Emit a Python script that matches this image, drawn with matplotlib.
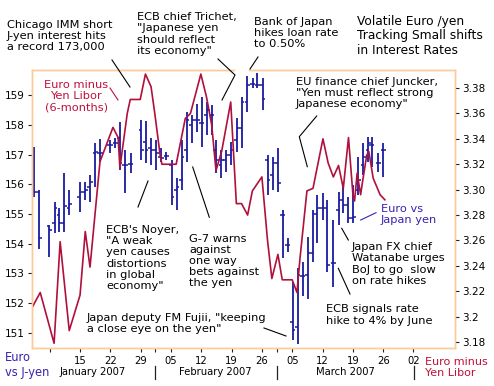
import matplotlib
matplotlib.use('Agg')
import matplotlib.pyplot as plt
import matplotlib.transforms as mtrans
from matplotlib.lines import Line2D
import numpy as np

# ---------------- data ----------------
# day of year 2007 (Jan 1 = 1)
bar_day = [4.4, 5.6, 7.9, 9.1, 10.2, 11.4, 12.5, 15.0, 16.2, 17.3, 18.5, 19.6, 21.9, 23.1,
           24.2, 25.4, 26.7, 29.1, 30.2, 31.4, 32.6, 33.7, 34.9, 36.2, 37.3, 38.5, 39.6,
           40.8, 42.0, 43.1, 44.3, 45.4, 46.4, 47.6, 48.7, 49.9, 51.2, 52.3, 53.6, 54.9,
           55.9, 57.2, 58.3, 59.5, 60.7, 61.8, 63.0, 64.1, 65.3, 66.4, 67.6, 68.7, 69.8,
           71.0, 72.1, 73.5, 74.7, 75.8, 77.0, 78.1, 79.3, 80.4, 81.6, 82.4, 83.9, 85.0]
bar_open = [157.23, 155.76, 154.60, 154.70, 154.97, 154.70, 155.20, 155.59, 155.75, 155.92,
            157.05, 157.06, 157.33, 157.40, 157.57, 156.66, 156.69, 157.84, 157.43, 157.23,
            157.16, 156.93, 156.96, 156.66, 155.81, 156.15, 157.16, 158.00, 158.17, 158.07,
            158.34, 158.34, 157.16, 156.66, 156.82, 156.99, 157.50, 157.90, 158.78, 159.39,
            159.35, 159.35, 156.82, 156.32, 156.72, 154.97, 153.96, 151.36, 151.19, 152.91,
            152.95, 153.69, 155.00, 155.21, 155.21, 153.35, 155.14, 155.48, 155.31, 154.87,
            155.81, 156.66, 157.16, 157.33, 156.72, 157.16]
bar_high = [157.27, 155.81, 154.63, 155.42, 155.21, 156.38, 155.81, 156.09, 156.09, 156.32,
            157.39, 157.52, 157.50, 157.56, 158.12, 157.16, 157.05, 158.17, 158.14, 157.57,
            157.50, 157.23, 157.09, 156.82, 156.22, 157.50, 158.44, 158.34, 158.71, 158.95,
            158.78, 158.68, 157.50, 157.16, 157.16, 157.43, 158.24, 158.95, 159.66, 159.59,
            159.76, 159.59, 156.99, 156.93, 157.23, 155.14, 154.19, 152.71, 153.18, 153.38,
            154.23, 155.14, 155.64, 155.70, 155.48, 154.80, 155.75, 156.08, 155.58, 155.98,
            156.93, 157.40, 157.60, 157.60, 157.06, 157.40]
bar_low = [155.57, 153.81, 153.56, 154.35, 154.41, 154.41, 154.97, 155.08, 155.48, 155.42,
           155.92, 156.77, 157.05, 157.22, 156.49, 155.70, 156.38, 156.82, 156.72, 156.66,
           156.49, 156.76, 156.82, 155.31, 155.14, 155.81, 156.76, 157.40, 157.77, 157.26,
           157.67, 157.67, 156.39, 156.22, 156.42, 156.66, 157.09, 157.23, 158.44, 159.25,
           159.25, 158.51, 155.64, 155.81, 155.75, 153.52, 153.72, 150.75, 150.62, 152.24,
           152.14, 153.38, 154.02, 154.80, 153.05, 152.54, 154.63, 155.04, 154.70, 154.70,
           155.64, 156.32, 156.76, 156.59, 156.42, 156.25]
bar_close = [155.76, 154.20, 154.45, 155.21, 154.70, 155.27, 155.35, 155.75, 155.81, 156.08,
             157.10, 157.05, 157.33, 157.39, 156.72, 156.66, 156.69, 157.16, 157.16, 157.16,
             157.06, 156.89, 156.96, 155.58, 155.92, 156.93, 158.17, 158.17, 158.17, 158.07,
             158.51, 158.34, 156.82, 156.82, 156.99, 157.16, 157.90, 158.78, 159.35, 159.39,
             159.35, 158.88, 156.15, 156.72, 156.05, 154.97, 153.96, 151.09, 152.95, 152.91,
             153.69, 155.00, 155.21, 155.21, 153.28, 153.35, 155.48, 155.31, 154.87, 154.90,
             156.15, 156.93, 157.40, 157.33, 156.72, 157.16]

libor_day = [3.9, 5.8, 9.0, 10.4, 12.5, 15.0, 16.2, 17.3, 19.6, 22.6, 23.8, 24.2, 25.9, 26.6,
             28.9, 30.1, 31.4, 32.3, 33.5, 33.9, 37.2, 39.3, 40.5, 42.9, 44.2, 45.4, 46.4,
             47.7, 49.8, 51.1, 52.3, 53.7, 54.8, 57.0, 58.3, 59.3, 60.7, 61.7, 64.0, 65.1,
             65.8, 67.4, 68.8, 71.1, 72.3, 73.5, 74.7, 75.8, 77.0, 78.0, 78.4, 79.0, 79.8,
             80.1, 81.2, 81.7, 82.7, 84.3, 85.4]
libor_spread = [3.207, 3.219, 3.179, 3.259, 3.189, 3.217, 3.267, 3.239, 3.322, 3.349, 3.341,
                3.317, 3.360, 3.371, 3.371, 3.391, 3.381, 3.359, 3.327, 3.320, 3.320, 3.356,
                3.360, 3.391, 3.373, 3.351, 3.315, 3.330, 3.369, 3.289, 3.289, 3.280, 3.299,
                3.310, 3.260, 3.230, 3.249, 3.229, 3.229, 3.219, 3.246, 3.299, 3.301, 3.340,
                3.321, 3.310, 3.319, 3.301, 3.341, 3.297, 3.291, 3.313, 3.296, 3.303, 3.327,
                3.330, 3.309, 3.296, 3.292]

week_ticks = [8, 15, 22, 29, 36, 43, 50, 57, 64, 71, 78, 85, 92]
week_labels = ['', '15', '22', '29', '05', '12', '19', '26', '05', '12', '19', '26', '02']
month_ticks = [32.3, 60.5]
month_names = ['January 2007', 'February 2007', 'March 2007']
month_centers = [18.0, 46.2, 76.2]
month_seps = [32.3, 60.5, 92.2]
left_ticks = [151, 152, 153, 154, 155, 156, 157, 158, 159]
right_ticks = [3.18, 3.20, 3.22, 3.24, 3.26, 3.28, 3.30, 3.32, 3.34, 3.36, 3.38]
right_labels = ['3.18', '3.2', '3.22', '3.24', '3.26', '3.28', '3.30', '3.32', '3.34', '3.36', '3.38']

# ---------------- style ----------------
BLUE = '#1A1AA0'
RED = '#B0103C'
LBL_BLUE = '#3A22B0'
LBL_RED = '#C0103C'
FRAME = '#FDCB98'
W, H = 494, 386
plt.rcParams['font.family'] = ['DejaVu Sans']

fig = plt.figure(figsize=(W / 100, H / 100), dpi=100)
ax = fig.add_axes([32 / W, 1 - 348 / H, (455 - 32) / W, (348 - 70) / H])
ax2 = ax.twinx()

d = np.array(bar_day)
ax.vlines(d, bar_low, bar_high, color=BLUE, lw=1.3)
ax.hlines(bar_open, d - 0.6, d, color=BLUE, lw=1.1)
ax.hlines(bar_close, d, d + 0.6, color=BLUE, lw=1.1)

ax2.plot(libor_day, libor_spread, color=RED, lw=1.2)

ax.set_xlim(3.9, 101.6)
ax.set_ylim(150.48, 159.86)
ax2.set_ylim(3.1753, 3.3942)

for a in (ax, ax2):
    for s in a.spines.values():
        s.set_color(FRAME)
        s.set_linewidth(1.0)

ax.set_yticks(left_ticks)
ax.set_yticklabels([str(v) for v in left_ticks])
ax2.set_yticks(right_ticks)
ax2.set_yticklabels(right_labels)
ax.tick_params(axis='y', length=3, width=0.8, color='#222222', pad=2, labelsize=7.5)
ax2.tick_params(axis='y', length=3, width=0.8, color='#222222', pad=2, labelsize=7.5)

ax.set_xticks(week_ticks)
ax.set_xticklabels(week_labels)
ax.set_xticks(month_ticks, minor=True)
ax.tick_params(axis='x', which='both', length=3, width=0.8, color='#222222', pad=2.5,
               labelsize=7.2)

trans = mtrans.blended_transform_factory(ax.transData, ax.transAxes)
for name, c in zip(month_names, month_centers):
    ax.text(c, -0.087, name, transform=trans, ha='center', va='center', fontsize=7.2)
for s in month_seps:
    ax.plot([s, s], [-0.065, -0.112], transform=trans, color='#222222', lw=0.9, clip_on=False)


def P(x, y):
    return x / W, 1 - y / H


def txt(x, yc, s, color='black', size=8.2, ha='left'):
    fig.text(x / W, 1 - yc / H, s, ha=ha, va='center', fontsize=size, color=color,
             linespacing=1.13)


def lead(pts, color='black'):
    xs = [p[0] / W for p in pts]
    ys = [1 - p[1] / H for p in pts]
    fig.add_artist(Line2D(xs, ys, color=color, lw=0.8))


txt(7, 36, 'Chicago IMM short\nJ-yen interest hits\na record 173,000')
txt(137, 34, 'ECB chief Trichet,\n"Japanese yen\nshould reflect\nits economy"')
txt(254, 33, 'Bank of Japan\nhikes loan rate\nto 0.50%')
txt(357, 36, 'Volatile Euro /yen\nTracking Small shifts\nin Interest Rates', size=8.8)
txt(296, 93, 'EU finance chief Juncker,\n"Yen must reflect strong\nJapanese economy"')
txt(76, 96, 'Euro minus\nYen Libor\n(6-months)', color=LBL_RED, ha='center')
txt(106, 258, 'ECB\'s Noyer,\n"A weak\nyen causes\ndistortions\nin global\neconomy"')
txt(189, 261, 'G-7 warns\nagainst\none way\nbets against\nthe yen')
txt(87, 323.5, 'Japan deputy FM Fujii, "keeping\na close eye on the yen"')
txt(352, 264, 'Japan FX chief\nWatanabe urges\nBoJ to go  slow\non rate hikes')
txt(326, 315, 'ECB signals rate\nhike to 4% by June')
txt(381, 214.7, 'Euro vs\nJapan yen', color=LBL_BLUE)
txt(5, 365, 'Euro\nvs J-yen', color=LBL_BLUE, size=8.3)
txt(425, 367.5, 'Euro minus\nYen Libor', color=LBL_RED, size=8.0)

lead([(112, 60), (130, 87)])
lead([(218, 59), (235, 75), (222, 100)])
lead([(258, 57), (250, 69)])
lead([(316.7, 116), (299.3, 136.7), (307.3, 166.7)])
lead([(110, 88), (118, 100)], color=LBL_RED)
lead([(138, 207), (148, 181)])
lead([(192.7, 167), (209.3, 217.3)])
lead([(264, 328), (286, 336)])
lead([(341.7, 228.3), (348.3, 240)])
lead([(338.3, 268.3), (350, 294)])
lead([(360.7, 220), (376, 212.7)], color=LBL_BLUE)

# small break in the frame where the leader lines pass
fig.add_artist(Line2D([236 / W, 247 / W], [1 - 70 / H, 1 - 70 / H], color='white', lw=2))

fig.savefig('out.png', dpi=100)
